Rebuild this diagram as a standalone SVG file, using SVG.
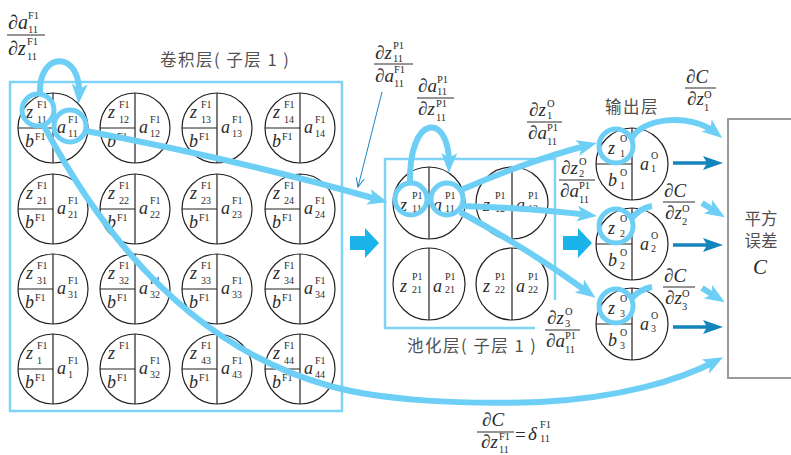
<svg xmlns="http://www.w3.org/2000/svg" xmlns:xlink="http://www.w3.org/1999/xlink" width="791" height="455" viewBox="0 0 791 455">
<style>
.ln{fill:none;stroke:#222;stroke-width:1.2}
.v{font-family:"Liberation Serif",serif;font-style:italic;font-size:18px;fill:#2b2b2b}
.s{font-family:"Liberation Serif",serif;font-size:10px;fill:#2b2b2b}
.fv{font-family:"Liberation Serif",serif;font-style:italic;font-size:19px;fill:#2b2b2b}
.fs{font-family:"Liberation Serif",serif;font-size:10.5px;fill:#2b2b2b}
.bar{stroke:#2b2b2b;stroke-width:1}
.cn{font-family:"Noto Sans CJK SC",sans-serif;font-size:16.5px;fill:#505050;letter-spacing:1.5px}
.hl{fill:none;stroke:#6dcff6;stroke-width:5}
.cv{fill:none;stroke:#6dcff6;stroke-width:6}
.dk{fill:none;stroke:#1385bc;stroke-width:3.5}
.frame{fill:none;stroke:#7fd4f5;stroke-width:2.5}
.blk{fill:#1bb4ea}
</style>
<defs>
<marker id="ah" markerUnits="userSpaceOnUse" viewBox="0 0 20 16" markerWidth="20" markerHeight="16" refX="12" refY="8" orient="auto"><path d="M0,0 L20,8 L0,16 L5,8 z" fill="#6dcff6"/></marker>
<marker id="ahd" markerUnits="userSpaceOnUse" viewBox="0 0 20 14" markerWidth="20" markerHeight="14" refX="12" refY="7" orient="auto"><path d="M0,0 L20,7 L0,14 L4,7 z" fill="#1385bc"/></marker>
<marker id="aht" markerUnits="userSpaceOnUse" viewBox="0 0 10 10" markerWidth="10" markerHeight="10" refX="9" refY="5" orient="auto"><path d="M0,1 L9,5 L0,9" fill="none" stroke="#1a86c0" stroke-width="1"/></marker>
<g id="cellF" class="ln"><circle r="35"/><line x1="0" y1="-35" x2="0" y2="35"/><line x1="-35" y1="0" x2="0" y2="0"/></g>
<g id="cellP" class="ln"><circle r="36"/><line x1="0" y1="-36" x2="0" y2="36"/></g>
<g id="cellO" class="ln"><circle r="36"/><line x1="0" y1="-36" x2="0" y2="36"/><line x1="-36" y1="0" x2="0" y2="0"/></g>
<polygon id="blockArrow" class="blk" points="0,-7 15,-7 15,-15 29,0 15,15 15,7 0,7"/>
</defs>
<rect width="791" height="455" fill="#fff"/>

<!-- layer frames -->
<g id="conv-layer">
<rect class="frame" x="10" y="82" width="332" height="329"/>
<text class="cn" x="160" y="66">卷积层( 子层 1 )</text>
</g>
<g id="pool-layer">
<path class="frame" d="M535 328 H385 V159 H555 V300"/>
<text class="cn" x="407" y="352">池化层( 子层 1 )</text>
</g>
<g id="output-layer-title"><text class="cn" x="605" y="113">输出层</text></g>

<!-- conv nodes -->
<g id="f11" transform="translate(53,128)"><use xlink:href="#cellF"/><text class="v" x="-27" y="-10">z</text><text class="s" x="-16" y="-20">F1</text><text class="s" x="-16" y="-5">11</text><text class="v" x="-28" y="19">b</text><text class="s" x="-18" y="12">F1</text><text class="v" x="4" y="5">a</text><text class="s" x="15" y="-5">F1</text><text class="s" x="15" y="9">11</text></g>
<g id="f12" transform="translate(135,128)"><use xlink:href="#cellF"/><text class="v" x="-27" y="-10">z</text><text class="s" x="-16" y="-20">F1</text><text class="s" x="-16" y="-5">12</text><text class="v" x="-28" y="19">b</text><text class="s" x="-18" y="12">F1</text><text class="v" x="4" y="5">a</text><text class="s" x="15" y="-5">F1</text><text class="s" x="15" y="9">12</text></g>
<g id="f13" transform="translate(217,128)"><use xlink:href="#cellF"/><text class="v" x="-27" y="-10">z</text><text class="s" x="-16" y="-20">F1</text><text class="s" x="-16" y="-5">13</text><text class="v" x="-28" y="19">b</text><text class="s" x="-18" y="12">F1</text><text class="v" x="4" y="5">a</text><text class="s" x="15" y="-5">F1</text><text class="s" x="15" y="9">13</text></g>
<g id="f14" transform="translate(300,128)"><use xlink:href="#cellF"/><text class="v" x="-27" y="-10">z</text><text class="s" x="-16" y="-20">F1</text><text class="s" x="-16" y="-5">14</text><text class="v" x="-28" y="19">b</text><text class="s" x="-18" y="12">F1</text><text class="v" x="4" y="5">a</text><text class="s" x="15" y="-5">F1</text><text class="s" x="15" y="9">14</text></g>
<g id="f21" transform="translate(53,209)"><use xlink:href="#cellF"/><text class="v" x="-27" y="-10">z</text><text class="s" x="-16" y="-20">F1</text><text class="s" x="-16" y="-5">21</text><text class="v" x="-28" y="19">b</text><text class="s" x="-18" y="12">F1</text><text class="v" x="4" y="5">a</text><text class="s" x="15" y="-5">F1</text><text class="s" x="15" y="9">21</text></g>
<g id="f22" transform="translate(135,209)"><use xlink:href="#cellF"/><text class="v" x="-27" y="-10">z</text><text class="s" x="-16" y="-20">F1</text><text class="s" x="-16" y="-5">22</text><text class="v" x="-28" y="19">b</text><text class="s" x="-18" y="12">F1</text><text class="v" x="4" y="5">a</text><text class="s" x="15" y="-5">F1</text><text class="s" x="15" y="9">22</text></g>
<g id="f23" transform="translate(217,209)"><use xlink:href="#cellF"/><text class="v" x="-27" y="-10">z</text><text class="s" x="-16" y="-20">F1</text><text class="s" x="-16" y="-5">23</text><text class="v" x="-28" y="19">b</text><text class="s" x="-18" y="12">F1</text><text class="v" x="4" y="5">a</text><text class="s" x="15" y="-5">F1</text><text class="s" x="15" y="9">23</text></g>
<g id="f24" transform="translate(300,209)"><use xlink:href="#cellF"/><text class="v" x="-27" y="-10">z</text><text class="s" x="-16" y="-20">F1</text><text class="s" x="-16" y="-5">24</text><text class="v" x="-28" y="19">b</text><text class="s" x="-18" y="12">F1</text><text class="v" x="4" y="5">a</text><text class="s" x="15" y="-5">F1</text><text class="s" x="15" y="9">24</text></g>
<g id="f31" transform="translate(53,289)"><use xlink:href="#cellF"/><text class="v" x="-27" y="-10">z</text><text class="s" x="-16" y="-20">F1</text><text class="s" x="-16" y="-5">31</text><text class="v" x="-28" y="19">b</text><text class="s" x="-18" y="12">F1</text><text class="v" x="4" y="5">a</text><text class="s" x="15" y="-5">F1</text><text class="s" x="15" y="9">31</text></g>
<g id="f32" transform="translate(135,289)"><use xlink:href="#cellF"/><text class="v" x="-27" y="-10">z</text><text class="s" x="-16" y="-20">F1</text><text class="s" x="-16" y="-5">32</text><text class="v" x="-28" y="19">b</text><text class="s" x="-18" y="12">F1</text><text class="v" x="4" y="5">a</text><text class="s" x="15" y="-5">F1</text><text class="s" x="15" y="9">32</text></g>
<g id="f33" transform="translate(217,289)"><use xlink:href="#cellF"/><text class="v" x="-27" y="-10">z</text><text class="s" x="-16" y="-20">F1</text><text class="s" x="-16" y="-5">33</text><text class="v" x="-28" y="19">b</text><text class="s" x="-18" y="12">F1</text><text class="v" x="4" y="5">a</text><text class="s" x="15" y="-5">F1</text><text class="s" x="15" y="9">33</text></g>
<g id="f34" transform="translate(300,289)"><use xlink:href="#cellF"/><text class="v" x="-27" y="-10">z</text><text class="s" x="-16" y="-20">F1</text><text class="s" x="-16" y="-5">34</text><text class="v" x="-28" y="19">b</text><text class="s" x="-18" y="12">F1</text><text class="v" x="4" y="5">a</text><text class="s" x="15" y="-5">F1</text><text class="s" x="15" y="9">34</text></g>
<g id="f41" transform="translate(53,369)"><use xlink:href="#cellF"/><text class="v" x="-27" y="-10">z</text><text class="s" x="-16" y="-20">F1</text><text class="s" x="-16" y="-5">1</text><text class="v" x="-28" y="19">b</text><text class="s" x="-18" y="12">F1</text><text class="v" x="4" y="5">a</text><text class="s" x="15" y="-5">F1</text><text class="s" x="15" y="9">1</text></g>
<g id="f42" transform="translate(135,369)"><use xlink:href="#cellF"/><text class="v" x="-27" y="-10">z</text><text class="s" x="-16" y="-20">F1</text><text class="v" x="-28" y="19">b</text><text class="s" x="-18" y="12">F1</text><text class="v" x="4" y="5">a</text><text class="s" x="15" y="-5">F1</text><text class="s" x="15" y="9">32</text></g>
<g id="f43" transform="translate(217,369)"><use xlink:href="#cellF"/><text class="v" x="-27" y="-10">z</text><text class="s" x="-16" y="-20">F1</text><text class="s" x="-16" y="-5">43</text><text class="v" x="-28" y="19">b</text><text class="s" x="-18" y="12">F1</text><text class="v" x="4" y="5">a</text><text class="s" x="15" y="-5">F1</text><text class="s" x="15" y="9">43</text></g>
<g id="f44" transform="translate(300,369)"><use xlink:href="#cellF"/><text class="v" x="-27" y="-10">z</text><text class="s" x="-16" y="-20">F1</text><text class="s" x="-16" y="-5">44</text><text class="v" x="-28" y="19">b</text><text class="s" x="-18" y="12">F1</text><text class="v" x="4" y="5">a</text><text class="s" x="15" y="-5">F1</text><text class="s" x="15" y="9">44</text></g>

<!-- pool nodes -->
<g id="p11" transform="translate(429,203)"><use xlink:href="#cellP"/><text class="v" x="-29" y="8">z</text><text class="s" x="-17" y="-4">P1</text><text class="s" x="-17" y="9">11</text><text class="v" x="4" y="8">a</text><text class="s" x="16" y="-4">P1</text><text class="s" x="16" y="9">11</text></g>
<g id="p12" transform="translate(512,203)"><use xlink:href="#cellP"/><text class="v" x="-29" y="8">z</text><text class="s" x="-17" y="-4">P1</text><text class="s" x="-17" y="9">12</text><text class="v" x="4" y="8">a</text><text class="s" x="16" y="-4">P1</text><text class="s" x="16" y="9">12</text></g>
<g id="p21" transform="translate(429,284)"><use xlink:href="#cellP"/><text class="v" x="-29" y="8">z</text><text class="s" x="-17" y="-4">P1</text><text class="s" x="-17" y="9">21</text><text class="v" x="4" y="8">a</text><text class="s" x="16" y="-4">P1</text><text class="s" x="16" y="9">21</text></g>
<g id="p22" transform="translate(512,284)"><use xlink:href="#cellP"/><text class="v" x="-29" y="8">z</text><text class="s" x="-17" y="-4">P1</text><text class="s" x="-17" y="9">22</text><text class="v" x="4" y="8">a</text><text class="s" x="16" y="-4">P1</text><text class="s" x="16" y="9">22</text></g>

<!-- output nodes -->
<g id="o1" transform="translate(632,164)"><use xlink:href="#cellO"/><text class="v" x="-24" y="-10">z</text><text class="s" x="-12" y="-22">O</text><text class="s" x="-12" y="-7">1</text><text class="v" x="-24" y="22">b</text><text class="s" x="-12" y="12">O</text><text class="s" x="-12" y="25">1</text><text class="v" x="8" y="6">a</text><text class="s" x="19" y="-5">O</text><text class="s" x="19" y="8">1</text></g>
<g id="o2" transform="translate(632,244)"><use xlink:href="#cellO"/><text class="v" x="-24" y="-10">z</text><text class="s" x="-12" y="-22">O</text><text class="s" x="-12" y="-7">2</text><text class="v" x="-24" y="22">b</text><text class="s" x="-12" y="12">O</text><text class="s" x="-12" y="25">2</text><text class="v" x="8" y="6">a</text><text class="s" x="19" y="-5">O</text><text class="s" x="19" y="8">2</text></g>
<g id="o3" transform="translate(632,324)"><use xlink:href="#cellO"/><text class="v" x="-24" y="-10">z</text><text class="s" x="-12" y="-22">O</text><text class="s" x="-12" y="-7">3</text><text class="v" x="-24" y="22">b</text><text class="s" x="-12" y="12">O</text><text class="s" x="-12" y="25">3</text><text class="v" x="8" y="6">a</text><text class="s" x="19" y="-5">O</text><text class="s" x="19" y="8">3</text></g>

<!-- cost node -->
<g id="cost">
<rect x="728" y="119" width="80" height="259" fill="none" stroke="#9a9a9a" stroke-width="2"/>
<text class="cn" x="761" y="225" text-anchor="middle" style="letter-spacing:0">平方</text>
<text class="cn" x="761" y="247" text-anchor="middle" style="letter-spacing:0">误差</text>
<text class="v" x="760" y="274" text-anchor="middle" style="font-size:21px">C</text>
</g>

<!-- connectors -->
<g id="connectors">
<path class="cv" d="M40 94 C38 50 82 50 79 96" marker-end="url(#ah)"/>
<circle class="hl" cx="38" cy="110" r="16"/>
<circle class="hl" cx="70" cy="126" r="16"/>
<path class="cv" d="M86 131 Q240 160 380 200" marker-end="url(#ah)"/>
<path class="cv" d="M44 126 C110 250 200 350 330 386 C380 400 460 405 540 402 C620 398 680 380 716 361" marker-end="url(#ah)"/>
<path d="M382 92 L358 187" stroke="#1a86c0" stroke-width="1" fill="none" marker-end="url(#aht)"/>
<path class="cv" d="M410 185 C408 112 450 112 449 165" marker-end="url(#ah)"/>
<circle class="hl" cx="411" cy="199" r="16"/>
<circle class="hl" cx="447" cy="199" r="16"/>
<path class="cv" d="M461 190 Q530 160 589 145" marker-end="url(#ah)"/>
<path class="cv" d="M462 206 Q530 208 589 215" marker-end="url(#ah)"/>
<path class="cv" d="M460 212 Q530 250 589 293" marker-end="url(#ah)"/>
<circle class="hl" cx="616" cy="146" r="17"/>
<path class="cv" d="M631 140 C640 118 690 112 716 133" marker-end="url(#ah)"/>
<circle class="hl" cx="616" cy="226" r="17"/>
<path class="cv" d="M631 219 Q640 208 652 206"/>
<path class="cv" d="M702 203 L718 213" marker-end="url(#ah)"/>
<circle class="hl" cx="616" cy="306" r="17"/>
<path class="cv" d="M631 299 Q640 289 652 287"/>
<path class="cv" d="M702 288 L718 298" marker-end="url(#ah)"/>
<path class="dk" d="M673 163 H715" marker-end="url(#ahd)"/>
<path class="dk" d="M673 245 H715" marker-end="url(#ahd)"/>
<path class="dk" d="M673 327 H715" marker-end="url(#ahd)"/>
<use xlink:href="#blockArrow" x="350" y="243"/>
<use xlink:href="#blockArrow" x="563" y="243"/>
</g>

<!-- labels -->
<g id="labels">
<g id="lbl-da-dz-f"><text class="fv" x="8" y="29" style="font-size:20px">∂a</text><text class="fs" x="28" y="19">F1</text><text class="fs" x="28" y="33">11</text><line class="bar" x1="7" y1="35" x2="45" y2="35"/><text class="fv" x="8" y="55" style="font-size:20px">∂z</text><text class="fs" x="27" y="45">F1</text><text class="fs" x="27" y="60">11</text></g>
<g id="lbl-dzp-daf"><text class="fv" x="375" y="59">∂z</text><text class="fs" x="393" y="49">P1</text><text class="fs" x="393" y="62">11</text><line class="bar" x1="374" y1="64" x2="413" y2="64"/><text class="fv" x="375" y="82">∂a</text><text class="fs" x="394" y="73">F1</text><text class="fs" x="394" y="87">11</text></g>
<g id="lbl-dap-dzp"><text class="fv" x="418" y="92">∂a</text><text class="fs" x="437" y="83">P1</text><text class="fs" x="437" y="95">11</text><line class="bar" x1="417" y1="98" x2="454" y2="98"/><text class="fv" x="418" y="115">∂z</text><text class="fs" x="436" y="107">P1</text><text class="fs" x="436" y="121">11</text></g>
<g id="lbl-dz1-dap"><text class="fv" x="529" y="116">∂z</text><text class="fs" x="547" y="107">O</text><text class="fs" x="547" y="119">1</text><line class="bar" x1="527" y1="122" x2="562" y2="122"/><text class="fv" x="528" y="139">∂a</text><text class="fs" x="547" y="131">P1</text><text class="fs" x="547" y="145">11</text></g>
<g id="lbl-dz2-dap"><text class="fv" x="561" y="174">∂z</text><text class="fs" x="579" y="165">O</text><text class="fs" x="579" y="177">2</text><line class="bar" x1="559" y1="180" x2="595" y2="180"/><text class="fv" x="560" y="197">∂a</text><text class="fs" x="579" y="189">P1</text><text class="fs" x="579" y="203">11</text></g>
<g id="lbl-dz3-dap"><text class="fv" x="547" y="324">∂z</text><text class="fs" x="565" y="315">O</text><text class="fs" x="565" y="327">3</text><line class="bar" x1="545" y1="330" x2="580" y2="330"/><text class="fv" x="546" y="347">∂a</text><text class="fs" x="565" y="339">P1</text><text class="fs" x="565" y="353">11</text></g>
<g id="lbl-dc-dz1"><text class="fv" x="686" y="83">∂C</text><line class="bar" x1="685" y1="88" x2="716" y2="88"/><text class="fv" x="687" y="105">∂z</text><text class="fs" x="704" y="98">O</text><text class="fs" x="704" y="111">1</text></g>
<g id="lbl-dc-dz2"><text class="fv" x="664" y="197">∂C</text><line class="bar" x1="663" y1="202" x2="695" y2="202"/><text class="fv" x="665" y="219">∂z</text><text class="fs" x="682" y="212">O</text><text class="fs" x="682" y="225">2</text></g>
<g id="lbl-dc-dz3"><text class="fv" x="664" y="282">∂C</text><line class="bar" x1="663" y1="287" x2="695" y2="287"/><text class="fv" x="665" y="304">∂z</text><text class="fs" x="682" y="297">O</text><text class="fs" x="682" y="310">3</text></g>
<g id="lbl-delta"><text class="fv" x="482" y="426">∂C</text><line class="bar" x1="477" y1="432" x2="514" y2="432"/><text class="fv" x="481" y="448">∂z</text><text class="fs" x="499" y="440">F1</text><text class="fs" x="499" y="453" style="font-size:10px">11</text><text class="fv" x="515" y="441" style="font-style:normal">=</text><text class="fv" x="528" y="440">δ</text><text class="fs" x="540" y="428">F1</text><text class="fs" x="540" y="442">11</text></g>
</g>
</svg>
